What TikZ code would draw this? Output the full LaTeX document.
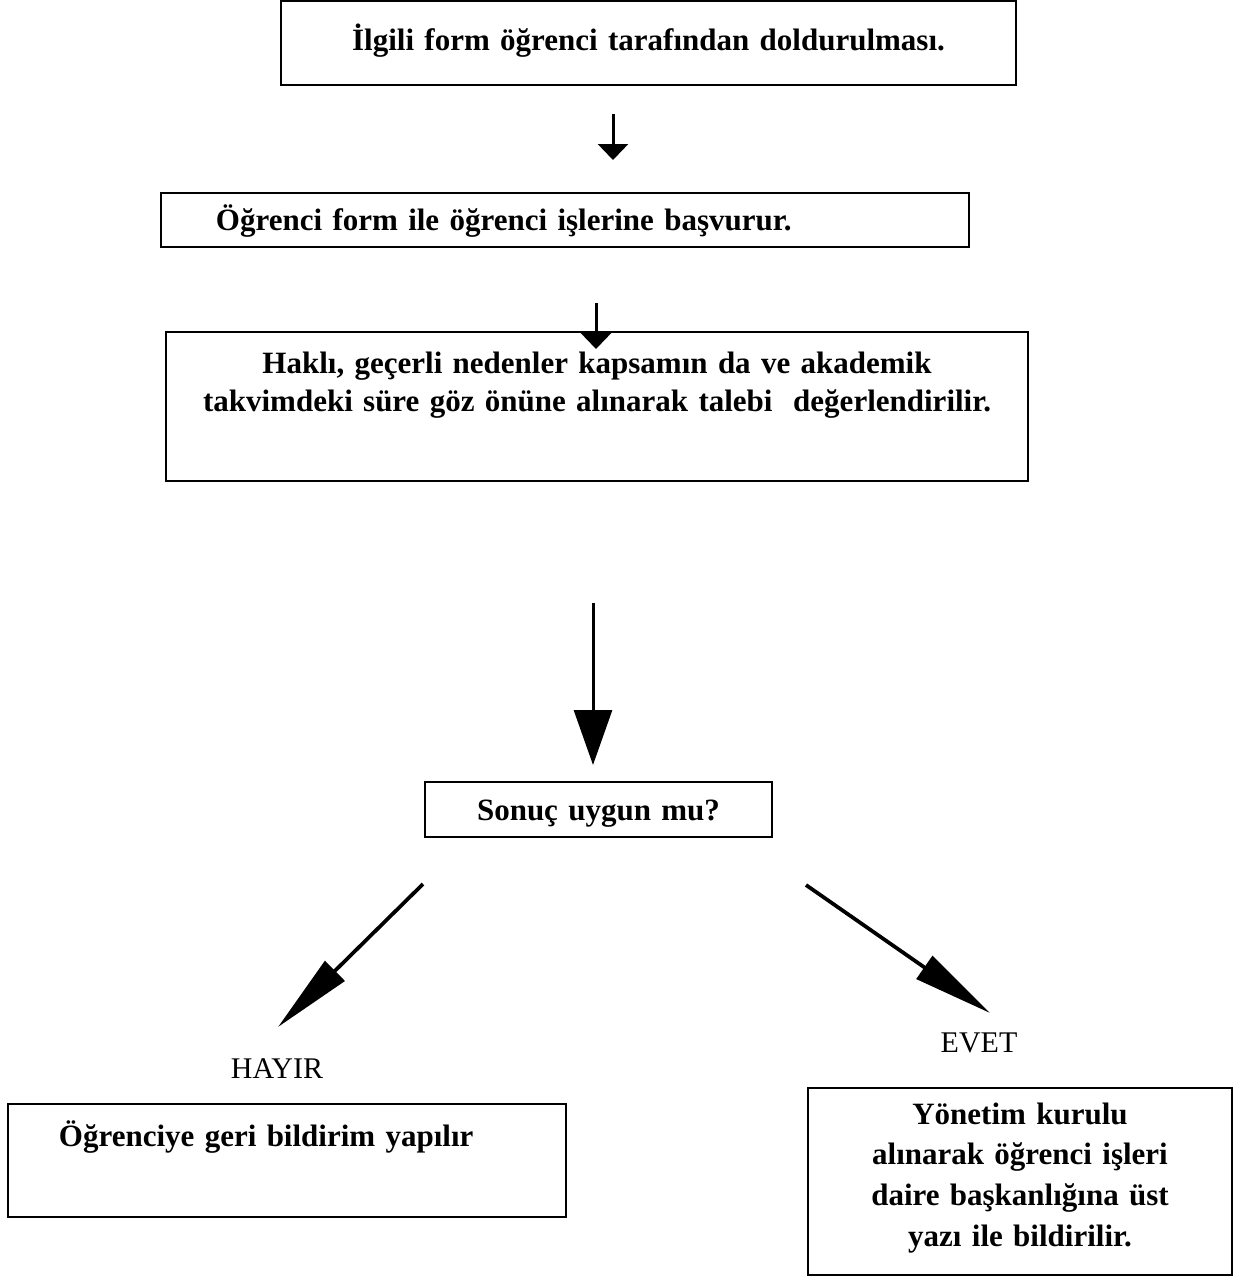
\documentclass[tikz,border=0pt]{standalone}
\usepackage{fontspec}
\setmainfont{Liberation Serif}
\usetikzlibrary{arrows.meta}

\tikzset{
  kutu/.style={draw, line width=0.8pt, inner sep=0pt, align=center,
    font=\fontsize{12.4}{15.2}\selectfont\bfseries},
  cevap/.style={font=\fontsize{12}{14}\selectfont},
  okkisa/.style={line width=1.2pt, -{Triangle[length=6.4pt, width=12pt]}},
  okuzun/.style={line width=1.2pt, -{Triangle[length=22pt, width=15.2pt]}},
  okcapraz/.style={line width=1.5pt, -{Triangle[length=32pt, width=11pt]}}
}

\begin{document}
\begin{tikzpicture}[x=0.4pt, y=-0.4pt]
  \useasboundingbox (0,0) rectangle (1251,1286);

  % kutular
  \node[kutu, anchor=base, text width=294pt, text height=19.4pt, text depth=14pt] (form) at (648.5,50)
    {İlgili form öğrenci tarafından doldurulması.};
  \node[kutu, align=left, anchor=base, text width=323.2pt, text height=14.8pt, text depth=6.8pt] (basvuru) at (565,230)
    {\hspace*{22pt}Öğrenci form ile öğrenci işlerine başvurur.};
  \node[kutu, anchor=base, text width=344.8pt, text height=16.4pt, text depth=43.2pt] (degerlendirme) at (597,373)
    {Haklı, geçerli nedenler kapsamın da ve akademik\\
     takvimdeki süre göz önüne alınarak talebi\ \ değerlendirilir.};
  \node[kutu, anchor=base, text width=138.8pt, text height=15.2pt, text depth=6.8pt] (sonuc) at (598.5,820)
    {Sonuç uygun mu?};
  \node[kutu, align=left, anchor=base, text width=223.2pt, text height=16.8pt, text depth=28.4pt] (ret) at (287,1146)
    {\hspace*{20.4pt}Öğrenciye geri bildirim yapılır};
  \node[kutu, anchor=base, text width=169.6pt, text height=14.4pt, text depth=60.4pt,
        font=\fontsize{12.4}{16.3}\selectfont\bfseries] (kabul) at (1020,1124)
    {Yönetim kurulu\\ alınarak öğrenci işleri\\ daire başkanlığına üst\\ yazı ile bildirilir.};

  % cevaplar
  \node[cevap, anchor=base] (hayir) at (277,1078) {HAYIR};
  \node[cevap, anchor=base] (evet) at (979,1052) {EVET};

  % ok uclari
  \coordinate (o1a) at (613,114);
  \coordinate (o1b) at (613,160);
  \coordinate (o2a) at (596,303);
  \coordinate (o2b) at (596,349);
  \coordinate (o3a) at (593,603);
  \coordinate (o3b) at (593,765);
  \coordinate (o4a) at (423,884);
  \coordinate (o4b) at (278,1027);
  \coordinate (o5a) at (806,885);
  \coordinate (o5b) at (990,1013);

  \draw[okkisa] (o1a) -- (o1b);
  \draw[okkisa] (o2a) -- (o2b);
  \draw[okuzun] (o3a) -- (o3b);
  \draw[okcapraz] (o4a) -- (o4b);
  \draw[okcapraz] (o5a) -- (o5b);
\end{tikzpicture}
\end{document}
